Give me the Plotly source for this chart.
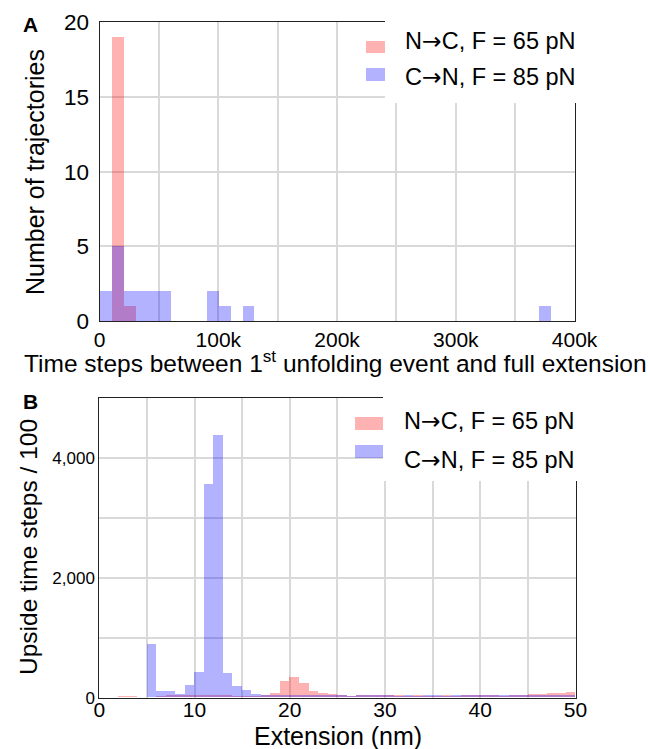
import plotly.graph_objects as go

# ---------------- Data ----------------
# Panel A: histogram of time steps between 1st unfolding event and full extension
a_bin_width = 10000
a_red_bins = [10000, 20000]
a_red_counts = [19, 1]
a_blue_bins = [0, 10000, 20000, 30000, 40000, 50000, 90000, 100000, 120000, 370000]
a_blue_counts = [2, 5, 2, 2, 2, 2, 2, 1, 1, 1]

a_xticks = [0, 100000, 200000, 300000, 400000]
a_xlabels = ["0", "100k", "200k", "300k", "400k"]
a_yticks = [0, 5, 10, 15, 20]

# Panel B: upside time steps / 100 vs extension (1 nm bins)
b_bin_width = 1
b_bins = list(range(0, 50))
b_red = [0, 0, 30, 30, 15, 10, 20, 40, 40, 35,
         35, 35, 35, 35, 30, 30, 25, 39, 67, 279,
         334, 240, 111, 67, 50, 39, 20, 39, 35, 35,
         40, 35, 30, 45, 30, 25, 35, 30, 35, 40,
         45, 35, 30, 35, 45, 65, 65, 75, 80, 95]
b_blue = [0, 0, 0, 0, 0, 895, 100, 110, 58, 212,
          424, 3557, 4376, 410, 195, 128, 56, 35, 38, 40,
          40, 40, 40, 38, 40, 35, 25, 35, 35, 38,
          35, 30, 35, 30, 35, 35, 30, 35, 35, 35,
          35, 35, 40, 35, 35, 35, 35, 35, 40, 40]

b_xticks = [0, 10, 20, 30, 40, 50]
b_yticks = [0, 2000, 4000]
b_ylabels = ["0", "2,000", "4,000"]

ARROW = "<span style='font-family:DejaVu Sans'>\u2192</span>"
series_names = ["N\u2192C, F = 65 pN", "C\u2192N, F = 85 pN"]
series_labels = ["N" + ARROW + "C, F = 65 pN", "C" + ARROW + "N, F = 85 pN"]

a_xtitle = "Time steps between 1<sup>st</sup> unfolding event and full extension"
a_ytitle = "Number of trajectories"
b_xtitle = "Extension (nm)"
b_ytitle = "Upside time steps / 100"

# ---------------- Styling ----------------
W, H = 648, 749
FONT = "Liberation Sans, Arial, Helvetica, sans-serif"
RED = "rgba(255,0,0,0.30)"
BLUE = "rgba(0,0,255,0.30)"
GRID = "#d9d9d9"


def px(x):
    return x / W


def py(y):
    return 1 - y / H


fig = go.Figure()

# Panel A
fig.add_trace(go.Bar(x=a_red_bins, y=a_red_counts, width=a_bin_width, offset=0,
                     marker=dict(color=RED, line=dict(width=0)), name=series_names[0],
                     xaxis="x", yaxis="y", showlegend=False))
fig.add_trace(go.Bar(x=a_blue_bins, y=a_blue_counts, width=a_bin_width, offset=0,
                     marker=dict(color=BLUE, line=dict(width=0)), name=series_names[1],
                     xaxis="x", yaxis="y", showlegend=False))
# Panel B
fig.add_trace(go.Bar(x=b_bins, y=b_red, width=b_bin_width, offset=0,
                     marker=dict(color=RED, line=dict(width=0)), name=series_names[0],
                     xaxis="x2", yaxis="y2", showlegend=False))
fig.add_trace(go.Bar(x=b_bins, y=b_blue, width=b_bin_width, offset=0,
                     marker=dict(color=BLUE, line=dict(width=0)), name=series_names[1],
                     xaxis="x2", yaxis="y2", showlegend=False))

axis_common = dict(showline=True, linecolor="#222", linewidth=1, mirror=True,
                   showgrid=True, gridcolor=GRID, gridwidth=1.5, zeroline=False,
                   ticks="", automargin=False)


def minor(step):
    return dict(dtick=step, showgrid=True, gridcolor=GRID, gridwidth=1.5, ticks="")


fig.update_layout(
    width=W, height=H, autosize=False,
    margin=dict(l=0, r=0, t=0, b=0),
    paper_bgcolor="white", plot_bgcolor="white",
    barmode="overlay", bargap=0,
    font=dict(family=FONT, color="black"),
    xaxis=dict(domain=[px(99.6), px(574.6)], range=[0, 400000], anchor="y",
               tickmode="array", tickvals=a_xticks, ticktext=a_xlabels,
               minor=minor(50000), tickfont=dict(size=21), **axis_common),
    yaxis=dict(domain=[py(321), py(22.3)], range=[0, 20], anchor="x",
               tickmode="array", tickvals=a_yticks,
               tickfont=dict(size=22.5), ticklabelstandoff=5, **axis_common),
    xaxis2=dict(domain=[px(99.3), px(575.5)], range=[0, 50], anchor="y2",
                tickmode="array", tickvals=b_xticks, minor=minor(5),
                tickfont=dict(size=21), ticklabelstandoff=-7, **axis_common),
    yaxis2=dict(domain=[py(697.7), py(398.3)], range=[0, 5000], anchor="x2",
                tickmode="array", tickvals=b_yticks, ticktext=b_ylabels, minor=minor(1000),
                tickfont=dict(size=17), **axis_common),
)

shapes = []
annotations = []

# Axis titles (placed as annotations for exact positioning)
title_specs = [
    (a_xtitle, 335.5, 361, 0, 24.5),
    (a_ytitle, 35, 172, -90, 25),
    (b_xtitle, 338, 736, 0, 25),
    (b_ytitle, 28, 547, -90, 24.5),
]
for text, tx, ty, ang, size in title_specs:
    annotations.append(dict(text=text, xref="paper", yref="paper", x=px(tx), y=py(ty),
                            xanchor="center", yanchor="middle", textangle=ang,
                            showarrow=False, font=dict(size=size, family=FONT)))

# Manual legends: white boxes, swatches, text
legend_specs = [
    dict(box=(385, 14, 648, 103), sw=[(366, 41, 385, 53), (366, 68, 385, 81)], ty=[41, 77], tx=403),
    dict(box=(383, 392, 648, 481), sw=[(355, 417, 383, 430), (355, 445, 383, 458)], ty=[421, 460], tx=402),
]
for spec in legend_specs:
    x0, y0, x1, y1 = spec["box"]
    shapes.append(dict(type="rect", xref="paper", yref="paper", layer="above",
                       x0=px(x0), x1=px(x1), y0=py(y1), y1=py(y0),
                       fillcolor="white", line=dict(width=0)))
    for (sx0, sy0, sx1, sy1), col in zip(spec["sw"], [RED, BLUE]):
        shapes.append(dict(type="rect", xref="paper", yref="paper", layer="above",
                           x0=px(sx0), x1=px(sx1), y0=py(sy1), y1=py(sy0),
                           fillcolor=col, line=dict(width=0)))
    for name, ty in zip(series_labels, spec["ty"]):
        annotations.append(dict(text=name, xref="paper", yref="paper",
                                x=px(spec["tx"]), y=py(ty), xanchor="left", yanchor="middle",
                                showarrow=False, font=dict(size=23.5, family=FONT)))

# Panel letters
annotations.append(dict(text="<b>A</b>", xref="paper", yref="paper", x=px(30), y=py(25),
                        xanchor="center", yanchor="middle", showarrow=False,
                        font=dict(size=21, family=FONT)))
annotations.append(dict(text="<b>B</b>", xref="paper", yref="paper", x=px(30), y=py(401),
                        xanchor="center", yanchor="middle", showarrow=False,
                        font=dict(size=21, family=FONT)))

fig.update_layout(shapes=shapes, annotations=annotations)

fig.write_html("out.html")
